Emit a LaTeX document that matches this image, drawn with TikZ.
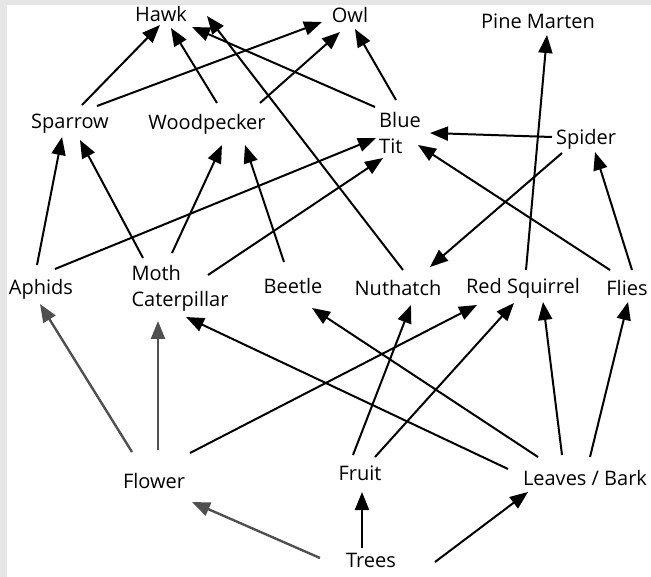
\documentclass[tikz,border=0pt]{standalone}
\usepackage{fontspec}
\setmainfont{Open Sans}
\usetikzlibrary{arrows.meta,calc}
\definecolor{frame}{HTML}{E6E6E6}
\definecolor{grayline}{HTML}{505050}
\tikzset{
  lbl/.style={inner sep=0pt, font=\fontsize{20}{26}\selectfont},
  arr/.style={line width=2pt, -{Triangle[length=18pt,width=14pt]}},
  garr/.style={arr, draw=grayline, line width=2.4pt},
}
\begin{document}
\begin{tikzpicture}[x=1pt,y=-1pt]
\useasboundingbox (0,0) rectangle (651,577);
\fill[frame] (0,0) rectangle (651,577);
\fill[white] (7,5) rectangle (651,577);
% nodes
\node[lbl] (hawk) at (161,14) {Hawk};
\node[lbl] (owl) at (350,15) {Owl};
\node[lbl] (marten) at (538,21) {Pine Marten};
\node[lbl] (sparrow) at (70,124) {Sparrow};
\node[lbl] (woodpecker) at (207,124) {Woodpecker};
\node[lbl, align=left] (bluetit) at (400,133) {Blue\\Tit};
\node[lbl] (spider) at (586,139) {Spider};
\node[lbl] (aphids) at (41,289) {Aphids};
\node[lbl, align=left] (moth) at (180,288) {Moth\\Caterpillar};
\node[lbl] (beetle) at (293,286) {Beetle};
\node[lbl] (nuthatch) at (398,288) {Nuthatch};
\node[lbl] (squirrel) at (523,288) {Red Squirrel};
\node[lbl] (flies) at (627,288) {Flies};
\node[lbl] (flower) at (154,481) {Flower};
\node[lbl] (fruit) at (360,473) {Fruit};
\node[lbl] (leaves) at (585,478) {Leaves / Bark};
\node[lbl] (trees) at (371,560) {Trees};
% connectors
\draw[arr] ($(sparrow)+(12,-19)$) -- ($(hawk)+(-1,11)$);
\draw[arr] ($(sparrow)+(27,-18)$) -- ($(owl)+(-28,7)$);
\draw[arr] ($(woodpecker)+(10,-21)$) -- ($(hawk)+(10,14)$);
\draw[arr] ($(woodpecker)+(53,-21)$) -- ($(owl)+(-10,17)$);
\draw[arr] ($(bluetit)+(-25,-26)$) -- ($(hawk)+(31,13)$);
\draw[arr] ($(nuthatch)+(5,-18)$) -- ($(hawk)+(46,2)$);
\draw[arr] ($(bluetit)+(-4,-33)$) -- ($(owl)+(5,14)$);
\draw[arr] ($(spider)+(-34,-2)$) -- ($(bluetit)+(30,0)$);
\draw[arr] ($(flies)+(-17,-18)$) -- ($(bluetit)+(18,12)$);
\draw[arr] ($(aphids)+(14,-20)$) -- ($(bluetit)+(-24,5)$);
\draw[arr] ($(moth)+(28,-13)$) -- ($(bluetit)+(-17,25)$);
\draw[arr] ($(spider)+(-24,14)$) -- ($(nuthatch)+(32,-21)$);
\draw[arr] ($(squirrel)+(3,-18)$) -- ($(marten)+(9,14)$);
\draw[arr] ($(flies)+(5,-18)$) -- ($(spider)+(9,13)$);
\draw[arr] ($(aphids)+(-4,-24)$) -- ($(sparrow)+(-8,13)$);
\draw[arr] ($(moth)+(-37,-30)$) -- ($(sparrow)+(10,16)$);
\draw[arr] ($(moth)+(-8,-35)$) -- ($(woodpecker)+(15,21)$);
\draw[arr] ($(beetle)+(-9,-24)$) -- ($(woodpecker)+(38,21)$);
\draw[garr] ($(flower)+(-22,-29)$) -- ($(aphids)+(-1,15)$);
\draw[garr] ($(flower)+(4,-31)$) -- ($(moth)+(-22,33)$);
\draw[arr] ($(flower)+(36,-28)$) -- ($(squirrel)+(-46,17)$);
\draw[arr] ($(leaves)+(-77,-9)$) -- ($(moth)+(6,29)$);
\draw[arr] ($(leaves)+(-47,-21)$) -- ($(beetle)+(19,22)$);
\draw[arr] ($(fruit)+(-7,-18)$) -- ($(nuthatch)+(13,17)$);
\draw[arr] ($(fruit)+(15,-16)$) -- ($(squirrel)+(-9,15)$);
\draw[arr] ($(leaves)+(-23,-23)$) -- ($(squirrel)+(20,14)$);
\draw[arr] ($(leaves)+(5,-21)$) -- ($(flies)+(1,14)$);
\draw[garr] ($(trees)+(-51,-2)$) -- ($(flower)+(38,21)$);
\draw[arr] ($(trees)+(-9,-12)$) -- ($(fruit)+(2,19)$);
\draw[arr] ($(trees)+(64,2)$) -- ($(leaves)+(-57,14)$);
\end{tikzpicture}
\end{document}
